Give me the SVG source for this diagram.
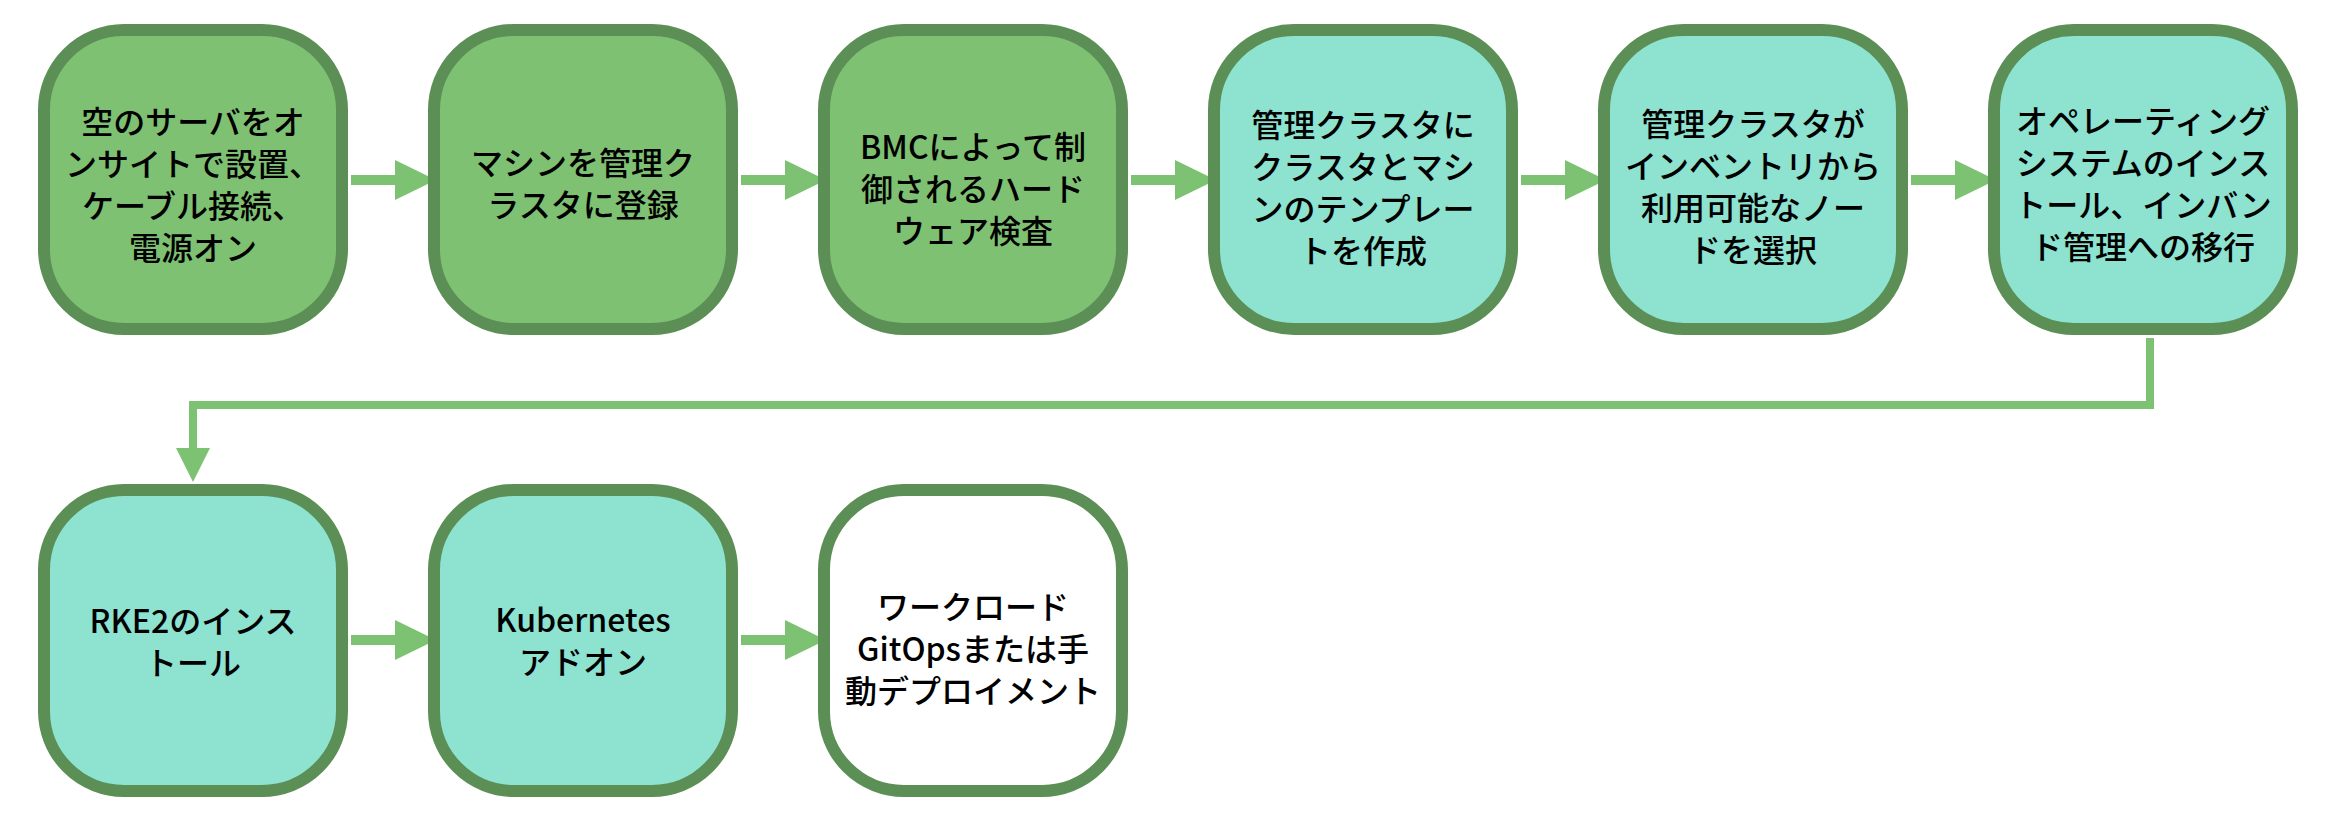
<svg xmlns="http://www.w3.org/2000/svg" width="2338" height="826" viewBox="0 0 2338 826">
<defs>
<style>
.n{stroke:#5b8f55;stroke-width:12}
.g{fill:#7fc173}
.c{fill:#8de2d0}
.w{fill:#ffffff}
.t{font-family:"Noto Sans CJK JP","Noto Sans",sans-serif;font-size:32px;font-weight:500;fill:#000;text-anchor:middle}
.l{stroke:#7dc272;fill:none}
.h{fill:#7dc272}
</style>
</defs>
<rect width="2338" height="826" fill="#ffffff"/>
<g id="connectors">
<line class="l" x1="351" y1="180" x2="397" y2="180" stroke-width="10"/>
<polygon class="h" points="395,160 436,180 395,200"/>
<line class="l" x1="741" y1="180" x2="787" y2="180" stroke-width="10"/>
<polygon class="h" points="785,160 826,180 785,200"/>
<line class="l" x1="1131" y1="180" x2="1177" y2="180" stroke-width="10"/>
<polygon class="h" points="1175,160 1216,180 1175,200"/>
<line class="l" x1="1521" y1="180" x2="1567" y2="180" stroke-width="10"/>
<polygon class="h" points="1565,160 1606,180 1565,200"/>
<line class="l" x1="1911" y1="180" x2="1957" y2="180" stroke-width="10"/>
<polygon class="h" points="1955,160 1996,180 1955,200"/>
<polyline class="l" points="2150,338 2150,405 193,405 193,450" stroke-width="8"/>
<polygon class="h" points="176,448 193,482 210,448"/>
<line class="l" x1="351" y1="640" x2="397" y2="640" stroke-width="10"/>
<polygon class="h" points="395,620 436,640 395,660"/>
<line class="l" x1="741" y1="640" x2="787" y2="640" stroke-width="10"/>
<polygon class="h" points="785,620 826,640 785,660"/>
</g>
<g id="n1">
<rect class="n g" x="44" y="30" width="298" height="299" rx="80" ry="80"/>
<text class="t"><tspan x="193" y="134">空のサーバをオ</tspan><tspan x="193" y="176">ンサイトで設置、</tspan><tspan x="193" y="218">ケーブル接続、</tspan><tspan x="193" y="260">電源オン</tspan></text>
</g>
<g id="n2">
<rect class="n g" x="434" y="30" width="298" height="299" rx="80" ry="80"/>
<text class="t"><tspan x="583" y="175">マシンを管理ク</tspan><tspan x="583" y="217">ラスタに登録</tspan></text>
</g>
<g id="n3">
<rect class="n g" x="824" y="30" width="298" height="299" rx="80" ry="80"/>
<text class="t"><tspan x="973" y="159">BMCによって制</tspan><tspan x="973" y="201">御されるハード</tspan><tspan x="973" y="243">ウェア検査</tspan></text>
</g>
<g id="n4">
<rect class="n c" x="1214" y="30" width="298" height="299" rx="80" ry="80"/>
<text class="t"><tspan x="1363" y="137">管理クラスタに</tspan><tspan x="1363" y="179">クラスタとマシ</tspan><tspan x="1363" y="221">ンのテンプレー</tspan><tspan x="1363" y="263">トを作成</tspan></text>
</g>
<g id="n5">
<rect class="n c" x="1604" y="30" width="298" height="299" rx="80" ry="80"/>
<text class="t"><tspan x="1753" y="136">管理クラスタが</tspan><tspan x="1753" y="178">インベントリから</tspan><tspan x="1753" y="220">利用可能なノー</tspan><tspan x="1753" y="262">ドを選択</tspan></text>
</g>
<g id="n6">
<rect class="n c" x="1994" y="30" width="298" height="299" rx="80" ry="80"/>
<text class="t"><tspan x="2143" y="133">オペレーティング</tspan><tspan x="2143" y="175">システムのインス</tspan><tspan x="2143" y="217">トール、インバン</tspan><tspan x="2143" y="259">ド管理への移行</tspan></text>
</g>
<g id="n7">
<rect class="n c" x="44" y="490" width="298" height="301" rx="80" ry="80"/>
<text class="t"><tspan x="193" y="633">RKE2のインス</tspan><tspan x="193" y="675">トール</tspan></text>
</g>
<g id="n8">
<rect class="n c" x="434" y="490" width="298" height="301" rx="80" ry="80"/>
<text class="t"><tspan x="583" y="632">Kubernetes</tspan><tspan x="583" y="674">アドオン</tspan></text>
</g>
<g id="n9">
<rect class="n w" x="824" y="490" width="298" height="301" rx="80" ry="80"/>
<text class="t"><tspan x="973" y="619">ワークロード</tspan><tspan x="973" y="661">GitOpsまたは手</tspan><tspan x="973" y="703">動デプロイメント</tspan></text>
</g>
</svg>
